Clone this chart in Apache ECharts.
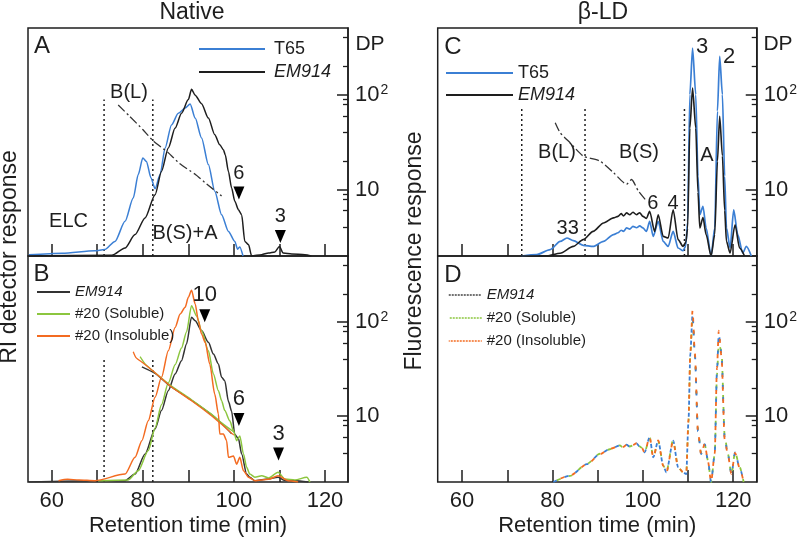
<!DOCTYPE html>
<html>
<head>
<meta charset="utf-8">
<title>Native / beta-LD chromatograms</title>
<script src="https://cdn.jsdelivr.net/npm/echarts@6.0.0/dist/echarts.min.js"></script>
<style>
    html, body { margin: 0; padding: 0; background: #fff; }
    #chart { width: 800px; height: 541px; }
</style>
</head>
<body>
<div id="chart"></div>
<script>
// ---------------------------------------------
// data : [retention time (min), response (% of panel height)]
// DP lines : [retention time, DP]
// ---------------------------------------------

// A - native, RI detector
const aT65 = [[55,0.5],[62.3,1.2],[69.5,2.3],[71.6,2.8],[73.9,6.4],[76.1,15.2],[77.9,25.4],[79,35.7],[80,43],[80.8,41.5],[81.8,34.2],[82.7,29.5],[83.8,35.7],[84.9,47.4],[86.3,57.5],[87.8,62.6],[89.3,64.9],[90.4,66.7],[91.5,60.5],[92.9,51.8],[94.4,40.1],[95.8,28.4],[97.3,18.1],[98.8,10.8],[100.2,6.4],[100.8,3],[101.3,4],[102,0]];
const aEM914 = [[55,0],[73.2,0.3],[76.1,3.5],[78.3,9.4],[80.5,16.7],[82.7,26.9],[84.1,37.1],[85.6,47.4],[87.1,56.1],[88.5,62.6],[90,68.6],[90.7,73.1],[91.5,70.5],[92.9,66.8],[94.4,60.5],[95.8,53.2],[96.9,48.8],[97.7,46.6],[98.1,44.4],[98.8,37.1],[99.5,29.8],[100.2,24],[101,20.3],[101.7,18.1],[102.4,6.4],[103.2,5],[103.9,0],[106.1,0.6],[107.6,1.3],[109,1.8],[110,4.2],[110.8,1.3],[112.7,0.9],[115.6,0.6],[117,0]];
const aDP = [[74.6,78],[77,60],[80,43],[82.3,32.6],[85.6,24.5],[88,19],[91.5,14.5],[94,11.5],[97.3,8.6]];
const aCuts = [71.5, 82.2];
const aArrowTime = [101.1, 110.2];
const aArrowResp = [27.6, 8.6];
const aArrowDP = ["6", "3"];

// B - native, RI detector
const bEM914 = [[55,0],[69.5,0.6],[76.1,0.6],[78.3,3.5],[80.5,12.4],[82.7,23.5],[84.1,31.6],[85.6,40.4],[87.1,47.8],[88.5,53.7],[89.6,61.1],[90.7,72.9],[91.5,71.4],[92.9,67],[94.4,61.8],[95.5,56.6],[96.6,52.2],[97.3,46.3],[98,44.8],[98.8,35.7],[99.5,31.3],[100.2,21],[101,19.2],[101.7,12.4],[102.8,3.5],[103.5,2.1],[104.6,0.6],[107,1.2],[109.7,2.1],[111,0.8],[113.4,0.6],[116.3,0]];
const bSoluble = [[70.2,0.6],[76.8,0.9],[79,5],[81.2,13.9],[82.7,23.9],[84.1,34.2],[85.6,43.8],[87.1,51.9],[88.5,59.3],[89.6,66.4],[90.7,78],[91.8,73.5],[92.9,67],[94.4,58.1],[95.5,47.8],[96.6,40.4],[97.3,36],[98,31.6],[99.1,27.1],[99.9,22.7],[100.6,18.3],[101.3,20.4],[102.1,12.4],[102.8,6.5],[103.5,3.5],[104.6,2.1],[106.1,2.8],[107.6,1.8],[109.7,4.3],[111.2,1.3],[113.4,0.9],[116,2.1],[116.7,0]];
const bInsoluble = [[61.5,0.6],[63.5,1.2],[66,0.9],[69.5,0.6],[76.1,3.5],[78.3,10.9],[79.8,18.3],[81.2,27.1],[82.7,37.5],[84.1,46.3],[85.6,58.1],[87.1,68.4],[88.2,74.3],[89.3,77.3],[90,81.7],[90.7,84.9],[91.5,78.8],[92.2,71.4],[92.9,65.5],[93.7,61.8],[94.7,52.2],[95.8,38.9],[96.6,30.1],[96.9,21.2],[97.7,21.2],[98.4,18.3],[98.8,10.9],[99.9,11.5],[100.6,7.9],[101.3,10.9],[102.1,5],[103.2,2.1],[104.6,0.6],[107.6,1.2],[109.7,2.8],[111.9,0.6],[114.1,0]];
const bDPEM914 = [[79.8,33.5],[82.7,28.5],[86,21],[90.7,14.8],[95,10.5],[97.3,8.4],[99.5,6.5]];
const bDPSoluble = [[79.4,43],[80.5,36],[82.7,29],[86,21.5],[90.7,15],[95,10.6],[97.3,8.5],[100,6.8]];
const bDPInsoluble = [[77.9,48.5],[78.5,42],[80,37],[82.7,29],[86,21],[90.7,14.6],[95,10.2],[97.3,8.2],[100,6.3]];
const bCuts = [71.5, 82.2];
const bArrowTime = [93.6, 101.1, 109.8];
const bArrowResp = [73.6, 27.6, 12.4];
const bArrowDP = ["10", "6", "3"];

// C - beta-LD, fluorescence
const cT65 = [[73.2,0],[76.5,0.6],[79.5,2.8],[81.7,6.4],[83.2,7.9],[84.6,6.7],[86.8,4.7],[89,4.2],[91.3,6.4],[93.5,9.4],[94.5,10.2],[95.2,11.3],[95.7,10.8],[96.4,12.3],[97.1,11.8],[97.8,13],[98.6,12.4],[99.3,13.2],[100,12.3],[100.8,10.8],[101.5,15.2],[102.3,8.6],[103.4,15.2],[104.5,6.4],[105.6,4.2],[106.7,10.8],[107.8,3.5],[108.9,2.3],[109.5,4.5],[109.9,15],[110.4,70.8],[111,91.2],[111.7,70.8],[112.2,35],[112.6,18.1],[113.3,21.8],[114,12.3],[115.1,0],[115.9,12.3],[116.5,63.5],[117,87.6],[117.6,70.8],[118.1,35],[118.5,12.3],[119.3,3.5],[120.1,20.2],[121,9.4],[122.1,1.3],[122.9,4.2],[124,0]];
const cEM914 = [[73.2,0],[78.8,0],[81.7,1.2],[84.6,4.2],[86.8,7.2],[89,10.8],[91.3,14.5],[93.5,16.7],[94.5,17.4],[95.2,18.6],[95.7,17.6],[96.4,18.9],[97.1,18.1],[97.8,19.2],[98.6,18.1],[99.3,19],[100,17.4],[100.8,16.5],[101.5,19.6],[102.6,10.8],[103.4,18.1],[104.5,8.6],[105.6,7.9],[106.7,20.3],[107.8,7.2],[108.9,4.2],[109.5,6],[109.9,12],[110.4,56.1],[111,73.7],[111.7,56.1],[112.2,28],[112.6,12.3],[113.3,16.9],[114,9.4],[115.1,0],[115.9,9.4],[116.5,41.5],[117,61.3],[117.6,43.9],[118.1,20],[118.5,6.4],[119.3,1.3],[120.4,13.7],[121.4,3.5],[122.5,0]];
const cDP = [[80.6,50.7],[81.7,39.8],[83.9,31.2],[86.8,22.6],[90.5,20],[93.5,15.1],[96.4,11.4],[97.5,12.8],[99,9.7],[100.8,7.6]];
const cCuts = [73.2, 87.2, 109.2];

// D - beta-LD, fluorescence
const dEM914 = [[80.2,0],[83.9,2.8],[87.6,7.9],[90.5,12.4],[92.7,14.6],[94.9,16.1],[95.6,15.4],[96.4,16.5],[97.1,15.6],[97.9,16.3],[98.6,17.1],[99.2,15.8],[99.7,15.3],[100.4,13.1],[101.5,19.8],[102.3,10.9],[103.4,18.3],[104.5,7.2],[105.2,4.3],[106.7,18.3],[107.8,6.5],[108.9,4.3],[109.6,3.5],[110.1,27.1],[110.5,56.6],[111,74.3],[111.5,56.6],[112.2,22.4],[112.9,12.4],[113.7,16.8],[114.4,9.4],[115.1,0],[115.9,12.4],[116.4,49.3],[116.8,65.5],[117.4,56.6],[118.1,19.5],[118.8,12.4],[119.6,3.5],[120.4,13.1],[121.4,6.5],[122.3,0]];
const dSoluble = [[80.2,0],[83.9,2.7],[87.6,8],[90.5,12.5],[92.7,14.5],[94.9,16.2],[95.6,15.3],[96.4,16.6],[97.1,15.7],[97.9,16.2],[98.6,17],[99.2,15.9],[99.7,15.2],[100.4,13.3],[101.5,19.6],[102.3,11],[103.4,18.1],[104.5,7.4],[105.2,4.4],[106.7,18.6],[107.8,6.6],[108.9,4.2],[109.6,3.6],[110.1,26.5],[110.5,55.8],[111,73.2],[111.5,56],[112.2,22.8],[112.9,12.7],[113.7,16.5],[114.4,9.6],[115.1,0],[115.9,12.2],[116.4,47.5],[116.8,61],[117.4,58],[118.1,20.5],[118.8,12.6],[119.6,3.3],[120.4,13.4],[121.4,6.8],[122.3,0]];
const dInsoluble = [[80.2,0],[83.9,2.9],[87.6,7.8],[90.5,12.3],[92.7,14.7],[94.9,16],[95.6,15.5],[96.4,16.4],[97.1,15.5],[97.9,16.4],[98.6,17.2],[99.2,15.7],[99.7,15.4],[100.4,13],[101.5,20],[102.3,10.8],[103.4,18.4],[104.5,7.1],[105.2,4.2],[106.7,18.1],[107.8,6.4],[108.9,4.4],[109.6,3.4],[110.1,27.8],[110.5,57.5],[111,76],[111.5,57.2],[112.2,22],[112.9,12.2],[113.7,17],[114.4,9.2],[115.1,0],[115.9,12.6],[116.4,50.5],[116.8,67],[117.4,55.5],[118.1,19],[118.8,12.2],[119.6,3.6],[120.4,12.9],[121.4,6.3],[122.3,0]];

// axes
const timeTicks = [60, 70, 80, 90, 100, 110, 120];
const timeLabels = [60, 80, 100, 120];
const dpMajor = [10, 100];
const dpMinor = [4, 6, 8, 9, 20, 40, 60, 80, 90, 200, 400];

// -------------------------------------------------
const FONT = "'Liberation Sans', Arial, Helvetica, sans-serif";
const INK = "#1e1e1e";
const BLUE = "#3b7fd4";
const GREEN = "#8cc63f";
const ORANGE = "#f36b21";

const panels = [
    { left: 28, top: 28, width: 320, height: 228, min: 54.8, max: 125.05, labels: false },
    { left: 28, top: 256, width: 320, height: 226, min: 54.8, max: 125.05, labels: true },
    { left: 437.7, top: 28, width: 320, height: 228, min: 54.6, max: 125.2, labels: false },
    { left: 437.7, top: 256, width: 320, height: 226, min: 54.6, max: 125.2, labels: true }
];

const grid = [];
const xAxis = [];
const yAxis = [];

panels.forEach(function (p, i) {
    grid.push({
        left: p.left, top: p.top, width: p.width, height: p.height,
        show: true, borderColor: INK, borderWidth: 1.5, backgroundColor: "transparent"
    });
    xAxis.push({
        type: "value", gridIndex: i, min: p.min, max: p.max,
        axisLine: { show: false },
        axisTick: { inside: true, length: 12, customValues: timeTicks, lineStyle: { color: INK, width: 1.5 } },
        axisLabel: {
            show: p.labels, customValues: timeLabels, margin: 8,
            fontSize: 22, color: INK, fontFamily: FONT
        },
        splitLine: { show: false },
        name: p.labels ? "Retention time (min)" : "",
        nameLocation: "middle", nameGap: 33,
        nameTextStyle: { fontSize: 22, color: INK, fontFamily: FONT }
    });
    // response axis (no scale shown)
    yAxis.push({ type: "value", gridIndex: i, min: 0, max: 100, show: false });
    // DP axis, major ticks + labels
    yAxis.push({
        type: "log", gridIndex: i, position: "right", min: 2, max: 505, logBase: 10,
        axisLine: { show: true, lineStyle: { color: INK, width: 1.5 } },
        axisTick: { inside: true, length: 11, customValues: dpMajor, lineStyle: { color: INK, width: 1.5 } },
        axisLabel: {
            customValues: dpMajor, margin: 7, color: INK,
            formatter: function (v) {
                return v > 50 ? "{n|10}{s|2}" : "{n|10}";
            },
            rich: {
                n: { fontSize: 22, fontFamily: FONT, color: INK },
                s: { fontSize: 14, fontFamily: FONT, color: INK, verticalAlign: "top", padding: [0, 0, 10, 1] }
            }
        },
        splitLine: { show: false }
    });
    // DP axis, minor ticks
    yAxis.push({
        type: "log", gridIndex: i, position: "right", min: 2, max: 505, logBase: 10,
        axisLine: { show: false },
        axisTick: { inside: true, length: 5, customValues: dpMinor, lineStyle: { color: INK, width: 1.3 } },
        axisLabel: { show: false },
        splitLine: { show: false }
    });
});

function curve(name, data, g, color, extra) {
    return Object.assign({
        name: name, type: "line", data: data,
        xAxisIndex: g, yAxisIndex: g * 3,
        symbol: "none", smooth: 0.25, smoothMonotone: "x",
        lineStyle: { color: color, width: 1.5 },
        itemStyle: { color: color },
        silent: true, z: 3
    }, extra || {});
}

function dpLine(data, g, color, type) {
    return {
        type: "line", data: data, xAxisIndex: g, yAxisIndex: g * 3 + 1,
        symbol: "none", smooth: 0.2,
        lineStyle: { color: color, width: 1.3, type: type },
        silent: true, z: 4
    };
}

function cutLines(list, g, top) {
    return list.map(function (t) {
        return {
            type: "line", data: [[t, 0], [t, top]], xAxisIndex: g, yAxisIndex: g * 3,
            symbol: "none", lineStyle: { color: INK, width: 1.5, type: [2, 3] },
            silent: true, z: 2
        };
    });
}

function arrows(times, resps, dps, g, fontSize) {
    return {
        type: "scatter", xAxisIndex: g, yAxisIndex: g * 3,
        data: times.map(function (t, k) { return { value: [t, resps[k]], name: dps[k] }; }),
        symbol: "triangle", symbolRotate: 180, symbolSize: [11, 13],
        itemStyle: { color: "#000", opacity: 1 },
        label: {
            show: true, position: "top", distance: 3, formatter: "{b}",
            fontSize: fontSize, color: INK, opacity: 1, fontFamily: FONT, textBorderWidth: 0
        },
        silent: true, z: 6
    };
}

const dashStyle = function (color, offset) {
    return { lineStyle: { color: color, width: 1.8, type: [4, 8], dashOffset: offset }, smooth: 0.25 };
};

const series = [].concat(
    // A
    cutLines(aCuts, 0, 68.6),
    [
        curve("T65|A", aT65, 0, BLUE),
        curve("EM914|A", aEM914, 0, INK),
        dpLine(aDP, 0, "#333", [9, 3, 2, 3]),
        arrows(aArrowTime, aArrowResp, aArrowDP, 0, 20)
    ],
    // B
    cutLines(bCuts, 1, 54.4),
    [
        curve("EM914|B", bEM914, 1, "#333"),
        curve("#20 (Soluble)|B", bSoluble, 1, GREEN),
        curve("#20 (Insoluble)|B", bInsoluble, 1, ORANGE),
        dpLine(bDPEM914, 1, "#333", "solid"),
        dpLine(bDPSoluble, 1, GREEN, "solid"),
        dpLine(bDPInsoluble, 1, ORANGE, "solid"),
        arrows(bArrowTime, bArrowResp, bArrowDP, 1, 22)
    ],
    // C
    cutLines(cCuts, 2, 65),
    [
        curve("T65|C", cT65, 2, BLUE, { lineStyle: { color: BLUE, width: 1.7 } }),
        curve("EM914|C", cEM914, 2, INK, { lineStyle: { color: INK, width: 1.6 } }),
        dpLine(cDP, 2, "#333", [9, 3, 2, 3])
    ],
    // D
    [
        curve("#20 (Soluble)|D", dSoluble, 3, GREEN, dashStyle(GREEN, 8)),
        curve("EM914|D", dEM914, 3, BLUE, dashStyle(BLUE, 0)),
        curve("#20 (Insoluble)|D", dInsoluble, 3, ORANGE, dashStyle(ORANGE, 4))
    ]
);

function stripTag(name) {
    return name.split("|")[0];
}

// legend icon = line only (hide the symbol the line series adds)
const legendBase = {
    orient: "vertical", selectedMode: false, formatter: stripTag,
    itemStyle: { opacity: 0, borderWidth: 0 }
};

const legend = [
    Object.assign({}, legendBase, {
        left: 193, top: 34, itemWidth: 66, itemHeight: 12, itemGap: 3,
        textStyle: { color: INK, fontFamily: FONT, fontSize: 18, lineHeight: 20, padding: [0, 0, 0, 4] },
        data: [{ name: "T65|A" }, { name: "EM914|A", textStyle: { fontStyle: "italic" } }]
    }),
    Object.assign({}, legendBase, {
        left: 31, top: 279, itemWidth: 33, itemHeight: 10, itemGap: 6,
        textStyle: { color: INK, fontFamily: FONT, fontSize: 15, lineHeight: 16 },
        data: [
            { name: "EM914|B", textStyle: { fontStyle: "italic" } },
            { name: "#20 (Soluble)|B" },
            { name: "#20 (Insoluble)|B" }
        ]
    }),
    Object.assign({}, legendBase, {
        left: 440, top: 58, itemWidth: 67, itemHeight: 12, itemGap: 2,
        textStyle: { color: INK, fontFamily: FONT, fontSize: 18, lineHeight: 20 },
        data: [{ name: "T65|C" }, { name: "EM914|C", textStyle: { fontStyle: "italic" } }]
    }),
    Object.assign({}, legendBase, {
        left: 443, top: 282, itemWidth: 33, itemHeight: 10, itemGap: 7,
        textStyle: { color: INK, fontFamily: FONT, fontSize: 15, lineHeight: 16 },
        data: [
            { name: "EM914|D", textStyle: { fontStyle: "italic" }, lineStyle: { color: "#444", type: [2, 1], width: 1.5 } },
            { name: "#20 (Soluble)|D", lineStyle: { color: GREEN, type: [2, 1], width: 1.5 } },
            { name: "#20 (Insoluble)|D", lineStyle: { color: ORANGE, type: [2, 1], width: 1.5 } }
        ]
    })
];

function txt(x, y, s, size, rotation) {
    return {
        type: "text", x: x, y: y, rotation: rotation || 0, silent: true,
        style: {
            text: s, fontSize: size, fontFamily: FONT, fill: INK,
            align: "center", verticalAlign: "middle"
        }
    };
}

const graphic = [
    txt(192, 13, "Native", 23),
    txt(603, 13, "β-LD", 23),
    txt(10, 257, "RI detector response", 23, Math.PI / 2),
    txt(415, 251, "Fluorescence response", 23, Math.PI / 2),
    txt(42, 46, "A", 24),
    txt(41.5, 274, "B", 24),
    txt(453, 47, "C", 24),
    txt(453, 275.5, "D", 24),
    txt(370, 44.5, "DP", 21),
    txt(778, 44, "DP", 21),
    txt(68.5, 221, "ELC", 20),
    txt(129, 92, "B(L)", 20),
    txt(185, 233, "B(S)+A", 20),
    txt(702, 47, "3", 22),
    txt(729, 57, "2", 22),
    txt(707, 155, "A", 20),
    txt(557, 152, "B(L)", 20),
    txt(639, 152, "B(S)", 20),
    txt(652.7, 203, "6", 20),
    txt(673, 203, "4", 20),
    txt(567.7, 228, "33", 20)
];

const chart = echarts.init(document.getElementById("chart"));
chart.setOption({
    animation: false,
    textStyle: { fontFamily: FONT },
    grid: grid,
    xAxis: xAxis,
    yAxis: yAxis,
    legend: legend,
    series: series,
    graphic: graphic
});
</script>
</body>
</html>
